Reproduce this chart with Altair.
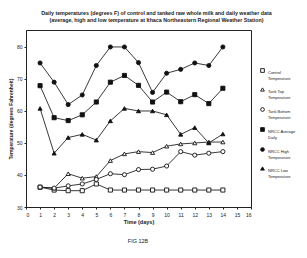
import altair as alt
import pandas as pd

days = list(range(1, 15))
control = [36.2, 35.3, 35.1, 35.1, 37.2, 35.3, 35.3, 35.3, 35.3, 35.3, 35.3, 35.3, 35.3, 35.3]
tank_top = [36.2, 35.9, 40.4, 39.0, 39.5, 44.5, 46.6, 47.3, 47.0, 49.0, 49.7, 50.0, 50.3, 50.3]
tank_bottom = [36.2, 35.9, 36.6, 37.2, 38.6, 40.4, 40.1, 41.7, 41.8, 42.8, 47.3, 46.2, 46.8, 47.3]
nrcc_avg = [67.9, 57.9, 57.0, 58.8, 62.8, 69.0, 71.1, 68.0, 62.8, 65.9, 62.9, 65.1, 62.3, 67.1]
nrcc_high = [75.0, 69.0, 62.0, 65.0, 74.2, 80.0, 80.0, 75.1, 65.8, 71.8, 73.0, 75.0, 74.2, 80.0]
nrcc_low = [60.8, 46.8, 51.7, 52.7, 50.9, 56.9, 60.8, 60.0, 60.0, 58.8, 52.7, 54.8, 50.0, 52.8]

series_names = ["Control|Temperature", "Tank Top|Temperature", "Tank Bottom|Temperature",
                "NRCC Average|Daily", "NRCC High|Temperature", "NRCC Low|Temperature"]
series_values = [control, tank_top, tank_bottom, nrcc_avg, nrcc_high, nrcc_low]
shapes = ["square", "triangle-up", "circle", "square", "circle", "triangle-up"]
fills = ["white", "white", "white", "#111", "#111", "#111"]

rows = []
for name, vals in zip(series_names, series_values):
    for d, v in zip(days, vals):
        rows.append({"day": d, "temp": v, "series": name})
df = pd.DataFrame(rows)

x = alt.X("day:Q", scale=alt.Scale(domain=[0, 16], nice=False),
          axis=alt.Axis(values=list(range(0, 17)), title="Time (days)", grid=False,
                        tickSize=2, labelFontSize=5, labelPadding=3, titleFontSize=5.5,
                        titleFontWeight="bold", titlePadding=2, domainColor="#222",
                        tickColor="#222", labelColor="#222", titleColor="#222"))
y = alt.Y("temp:Q", scale=alt.Scale(domain=[30, 85.3], nice=False, zero=False),
          axis=alt.Axis(values=[30, 40, 50, 60, 70, 80], title="Temperature (degrees Fahrenheit)",
                        grid=False, tickSize=2, labelFontSize=5, labelPadding=2, titleFontSize=5,
                        titleFontWeight="bold", titlePadding=3, domainColor="#222",
                        tickColor="#222", labelColor="#222", titleColor="#222"))

lines = alt.Chart(df).mark_line(color="#222", strokeWidth=0.9).encode(
    x=x, y=y, detail="series:N")

points = alt.Chart(df).mark_point(size=17, opacity=1, stroke="#111", strokeWidth=0.9).encode(
    x=x, y=y,
    shape=alt.Shape("series:N", scale=alt.Scale(domain=series_names, range=shapes),
                    legend=alt.Legend(title=None, orient="none", legendX=234, legendY=38,
                                      labelExpr="split(datum.label, '|')",
                                      labelFontSize=4, labelColor="#222", symbolSize=14,
                                      symbolStrokeWidth=0.9, rowPadding=5, labelOffset=3,
                                      labelBaseline="top", symbolOffset=0)),
    fill=alt.Fill("series:N", scale=alt.Scale(domain=series_names, range=fills), legend=None),
)

fig = alt.Chart(pd.DataFrame({"t": ["FIG 12B"]})).mark_text(
    fontSize=5.5, color="#222", font="Liberation Sans").encode(
    text="t:N", x=alt.value(112), y=alt.value(211))

chart = alt.layer(lines, points, fig).properties(
    width=225, height=177,
    title=alt.TitleParams(
        ["Daily temperatures  (degrees F) of control and tanked raw whole milk and daily weather data",
         "(average, high and low temperature at Ithaca Northeastern Regional Weather Station)"],
        fontSize=5.3, fontWeight="bold", color="#222", anchor="middle", dx=18, offset=7,
        lineHeight=7, font="Liberation Sans"),
    autosize=alt.AutoSizeParams(type="none"),
    padding={"left": 26, "top": 30, "right": 56, "bottom": 51},
).configure(font="Liberation Sans", background="white").configure_view(
    stroke="#222", strokeWidth=1)

chart.save("out.html", embed_options={"renderer": "svg", "actions": False})
